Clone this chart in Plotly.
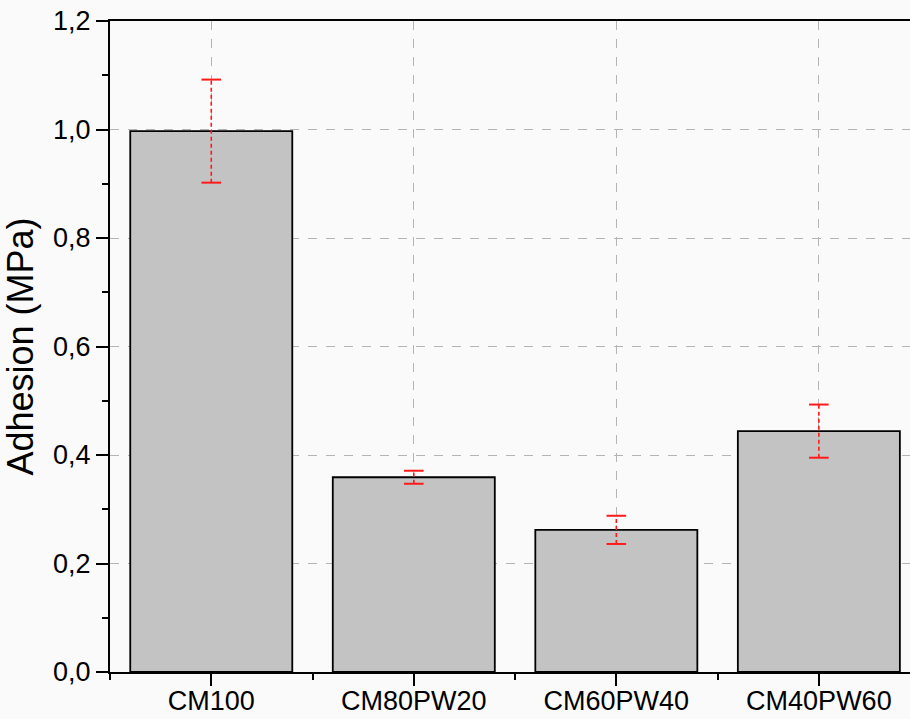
import plotly.graph_objects as go

categories = ["CM100", "CM80PW20", "CM60PW40", "CM40PW60"]
adhesion = [0.997, 0.359, 0.262, 0.444]
error = [0.095, 0.012, 0.026, 0.049]
y_ticks = [0.0, 0.2, 0.4, 0.6, 0.8, 1.0, 1.2]

xpos = list(range(len(categories)))

fig = go.Figure()
fig.add_trace(go.Bar(
    x=xpos, y=adhesion, width=0.8,
    marker=dict(color="#c3c3c3", line=dict(color="black", width=1.8)),
    showlegend=False,
))

# dashed error stems
ex, ey = [], []
for x, v, e in zip(xpos, adhesion, error):
    ex += [x, x, None]
    ey += [v - e, v + e, None]
fig.add_trace(go.Scatter(
    x=ex, y=ey, mode="lines",
    line=dict(color="#ff1a1a", width=1.6, dash="4px,3px"),
    showlegend=False, hoverinfo="skip",
))
# caps
cx, cy = [], []
for x, v, e in zip(xpos, adhesion, error):
    cx += [x, x]
    cy += [v - e, v + e]
fig.add_trace(go.Scatter(
    x=cx, y=cy, mode="markers",
    marker=dict(symbol="line-ew-open", size=14, color="#ff1a1a",
                line=dict(color="#ff1a1a", width=2)),
    showlegend=False, hoverinfo="skip",
))

font_family = "Liberation Sans, Arial, sans-serif"
fig.update_layout(
    width=910, height=719,
    margin=dict(l=110, r=0, t=21, b=47),
    paper_bgcolor="#fafafa",
    plot_bgcolor="#fafafa",
    separators=",.",
    font=dict(family=font_family, color="black"),
    bargap=0.2,
)
fig.update_xaxes(
    range=[-0.5, 3.45],
    automargin=False,
    tickmode="array", tickvals=xpos, ticktext=categories,
    tickfont=dict(size=27),
    ticklabelstandoff=-8,
    ticks="outside", ticklen=12, tickwidth=2, tickcolor="black",
    minor=dict(dtick=0.5, tick0=0.5, ticks="outside", ticklen=6, tickwidth=2, tickcolor="black", showgrid=False),
    showline=True, linecolor="black", linewidth=2, mirror=True,
    showgrid=True, gridcolor="#b4b4b4", griddash="dash", gridwidth=1,
    zeroline=False,
)
fig.update_yaxes(
    range=[0, 1.2],
    automargin=False,
    tickmode="array", tickvals=y_ticks, tickformat=".1f",
    tickfont=dict(size=27),
    ticks="outside", ticklen=12, tickwidth=2, tickcolor="black",
    minor=dict(dtick=0.1, tick0=0, ticks="outside", ticklen=6, tickwidth=2, tickcolor="black", showgrid=False),
    showline=True, linecolor="black", linewidth=2, mirror=False,
    showgrid=True, gridcolor="#b4b4b4", griddash="dash", gridwidth=1,
    zeroline=False,
    title=dict(text="Adhesion (MPa)", font=dict(size=36), standoff=14),
)

fig.write_html("out.html")
